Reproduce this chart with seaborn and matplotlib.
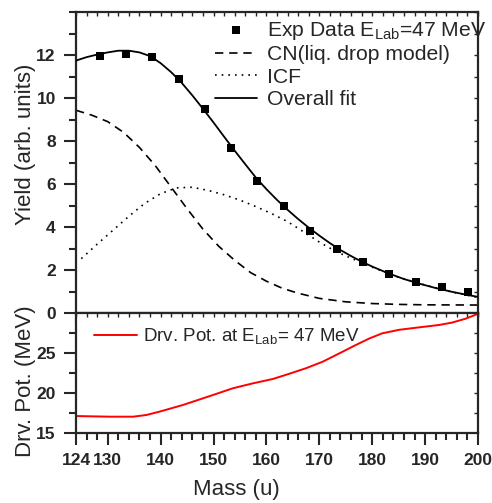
import numpy as np
import pandas as pd
import matplotlib
matplotlib.use("Agg")
import matplotlib.pyplot as plt
from matplotlib.ticker import MultipleLocator, FixedLocator
import seaborn as sns

# Measured yields (arb. units) vs fragment mass
exp_mass = [128.5, 133.4, 138.4, 143.4, 148.3, 153.3, 158.3, 163.3, 168.3,
            173.3, 178.2, 183.2, 188.2, 193.2, 198.2]
exp_yield = [11.94, 12.05, 11.90, 10.88, 9.47, 7.69, 6.16, 4.97, 3.80,
             2.96, 2.35, 1.81, 1.44, 1.19, 0.96]

# Overall fit
fit_mass = [124, 126, 128, 130, 132, 134, 136, 138, 140, 142, 144, 146, 148,
            150, 152, 154, 156, 158, 160, 162, 164, 166, 168, 170, 172, 174,
            176, 178, 180, 183, 186, 189, 192, 195, 198, 200]
fit_yield = [11.74, 11.9, 12.02, 12.12, 12.2, 12.2, 12.12, 11.95, 11.62, 11.2,
             10.7, 10.12, 9.5, 8.86, 8.2, 7.55, 6.92, 6.3, 5.76, 5.26, 4.8,
             4.37, 3.97, 3.6, 3.25, 2.93, 2.65, 2.39, 2.16, 1.85, 1.58, 1.36,
             1.16, 0.99, 0.84, 0.75]

# Compound-nucleus component (liquid drop model)
cn_mass = [124, 127, 130, 133, 136, 139, 142, 145, 148, 151, 154, 157, 160,
           163, 166, 170, 175, 180, 185, 190, 200]
cn_yield = [9.43, 9.2, 8.9, 8.4, 7.7, 6.85, 5.85, 4.85, 3.9, 3.1, 2.45, 1.88,
            1.48, 1.15, 0.92, 0.68, 0.52, 0.44, 0.40, 0.38, 0.37]

# Incomplete-fusion component
icf_mass = [125, 128, 131, 134, 137, 140, 143, 146, 149, 152, 155, 158, 161,
            164, 167, 170, 173, 176, 180, 185, 190, 195, 200]
icf_yield = [2.53, 3.2, 3.85, 4.5, 5.1, 5.55, 5.82, 5.85, 5.7, 5.5, 5.25, 4.95,
             4.62, 4.25, 3.78, 3.3, 2.88, 2.55, 2.13, 1.66, 1.3, 0.98, 0.72]

# Driving potential (MeV)
drv_mass = [124, 130.4, 134.8, 137.3, 139.8, 144.2, 149.9, 153.6, 157.4, 161.2,
            164.3, 167.5, 170.6, 173.8, 176.9, 179.4, 181.9, 185.1, 188.8,
            192.6, 195.1, 197.7, 200]
drv_pot = [17.12, 17.04, 17.04, 17.25, 17.67, 18.5, 19.75, 20.58, 21.2, 21.75,
           22.4, 23.1, 23.9, 24.96, 26.0, 26.8, 27.46, 27.9, 28.2, 28.5, 28.8,
           29.3, 29.9]

x_major = [124, 130, 140, 150, 160, 170, 180, 190, 200]
yield_ticks = [0, 2, 4, 6, 8, 10, 12]
pot_ticks = [15, 20, 25]

sns.set_style("ticks")
plt.rcParams["font.family"] = ["Liberation Sans", "DejaVu Sans"]
plt.rcParams["mathtext.fontset"] = "custom"
plt.rcParams["mathtext.rm"] = "Liberation Sans"
plt.rcParams["mathtext.it"] = "Liberation Sans:italic"
plt.rcParams["mathtext.bf"] = "Liberation Sans:bold"

fig = plt.figure(figsize=(4.92, 5.03), dpi=100)
W, H = 492.0, 503.0
ax_l, ax_r = 76 / W, 478 / W
ax_top = fig.add_axes([ax_l, 1 - 313 / H, ax_r - ax_l, (313 - 12) / H])
ax_bot = fig.add_axes([ax_l, 1 - 433 / H, ax_r - ax_l, (433 - 313) / H])

df_exp = pd.DataFrame({"Mass": exp_mass, "Yield": exp_yield})
df_fit = pd.DataFrame({"Mass": fit_mass, "Yield": fit_yield})
df_cn = pd.DataFrame({"Mass": cn_mass, "Yield": cn_yield})
df_icf = pd.DataFrame({"Mass": icf_mass, "Yield": icf_yield})
df_drv = pd.DataFrame({"Mass": drv_mass, "Pot": drv_pot})

sns.scatterplot(data=df_exp, x="Mass", y="Yield", ax=ax_top, marker="s",
                s=40, color="black", edgecolor="black", linewidth=0,
                label=r"Exp Data E$_{\mathrm{Lab}}$=47 MeV", zorder=4)
sns.lineplot(data=df_cn, x="Mass", y="Yield", ax=ax_top, color="black",
             lw=1.2, label="CN(liq. drop model)")
ax_top.lines[-1].set_linestyle((0, (5, 3.5)))
sns.lineplot(data=df_icf, x="Mass", y="Yield", ax=ax_top, color="black",
             lw=1.2, label="ICF")
ax_top.lines[-1].set_linestyle((0, (1, 3)))
sns.lineplot(data=df_fit, x="Mass", y="Yield", ax=ax_top, color="black",
             lw=1.3, label="Overall fit", zorder=3)

sns.lineplot(data=df_drv, x="Mass", y="Pot", ax=ax_bot, color="red", lw=1.4,
             label=r"Drv. Pot. at E$_{\mathrm{Lab}}$= 47 MeV")

for ax in (ax_top, ax_bot):
    ax.set_xlim(124, 200)
    ax.xaxis.set_major_locator(FixedLocator(x_major))
    ax.xaxis.set_minor_locator(MultipleLocator(2))
    for sp in ax.spines.values():
        sp.set_linewidth(1.6)
        sp.set_visible(True)
    ax.tick_params(which="major", direction="out", length=8.5, width=1.5,
                   labelsize=12.5, pad=6)
    ax.tick_params(which="minor", direction="out", length=5, width=1.5)

ax_top.set_ylim(0, 14)
ax_top.yaxis.set_major_locator(FixedLocator(yield_ticks))
ax_top.yaxis.set_minor_locator(MultipleLocator(1))
ax_top.tick_params(axis="x", labelbottom=False)
ax_top.set_xlabel("")
ax_top.set_ylabel("Yield (arb. units)", fontsize=16)
ax_top.yaxis.set_label_coords(-0.10, 0.56)

ax_bot.set_ylim(15, 30)
ax_bot.yaxis.set_major_locator(FixedLocator(pot_ticks))
ax_bot.yaxis.set_minor_locator(FixedLocator([17.5, 22.5, 27.5]))
ax_bot.set_xlabel("Mass (u)", fontsize=16)
ax_bot.xaxis.set_label_coords(0.40, -0.385)
ax_bot.set_ylabel("Drv. Pot. (MeV)", fontsize=16)
ax_bot.yaxis.set_label_coords(-0.10, 0.43)

# small inward ticks mirrored on the top and right spines
for ax, rticks in ((ax_top, MultipleLocator(1)),
                   (ax_bot, FixedLocator([17.5, 20, 22.5, 25, 27.5]))):
    sec_x = ax.secondary_xaxis("top")
    sec_x.xaxis.set_major_locator(MultipleLocator(2))
    sec_x.tick_params(which="both", direction="in", length=3, width=1.0,
                      labeltop=False)
    sec_y = ax.secondary_yaxis("right")
    sec_y.yaxis.set_major_locator(rticks)
    sec_y.tick_params(which="both", direction="in", length=3, width=1.0,
                      labelright=False)
    for sp in list(sec_x.spines.values()) + list(sec_y.spines.values()):
        sp.set_visible(False)

for lab in ax_top.get_yticklabels() + ax_bot.get_yticklabels() + ax_bot.get_xticklabels():
    lab.set_fontweight("bold")

leg = ax_top.legend(loc="upper right", bbox_to_anchor=(1.02, 0.975),
                    frameon=False, fontsize=15.2, handlelength=2.0,
                    handletextpad=0.45, labelspacing=0.17, borderpad=0,
                    borderaxespad=0, markerscale=1.0)
leg2 = ax_bot.legend(loc="upper left", bbox_to_anchor=(0.045, 0.89),
                     frameon=False, fontsize=13.5, handlelength=2.3,
                     handletextpad=0.3, borderpad=0, borderaxespad=0)

fig.savefig("out.png", dpi=100)
